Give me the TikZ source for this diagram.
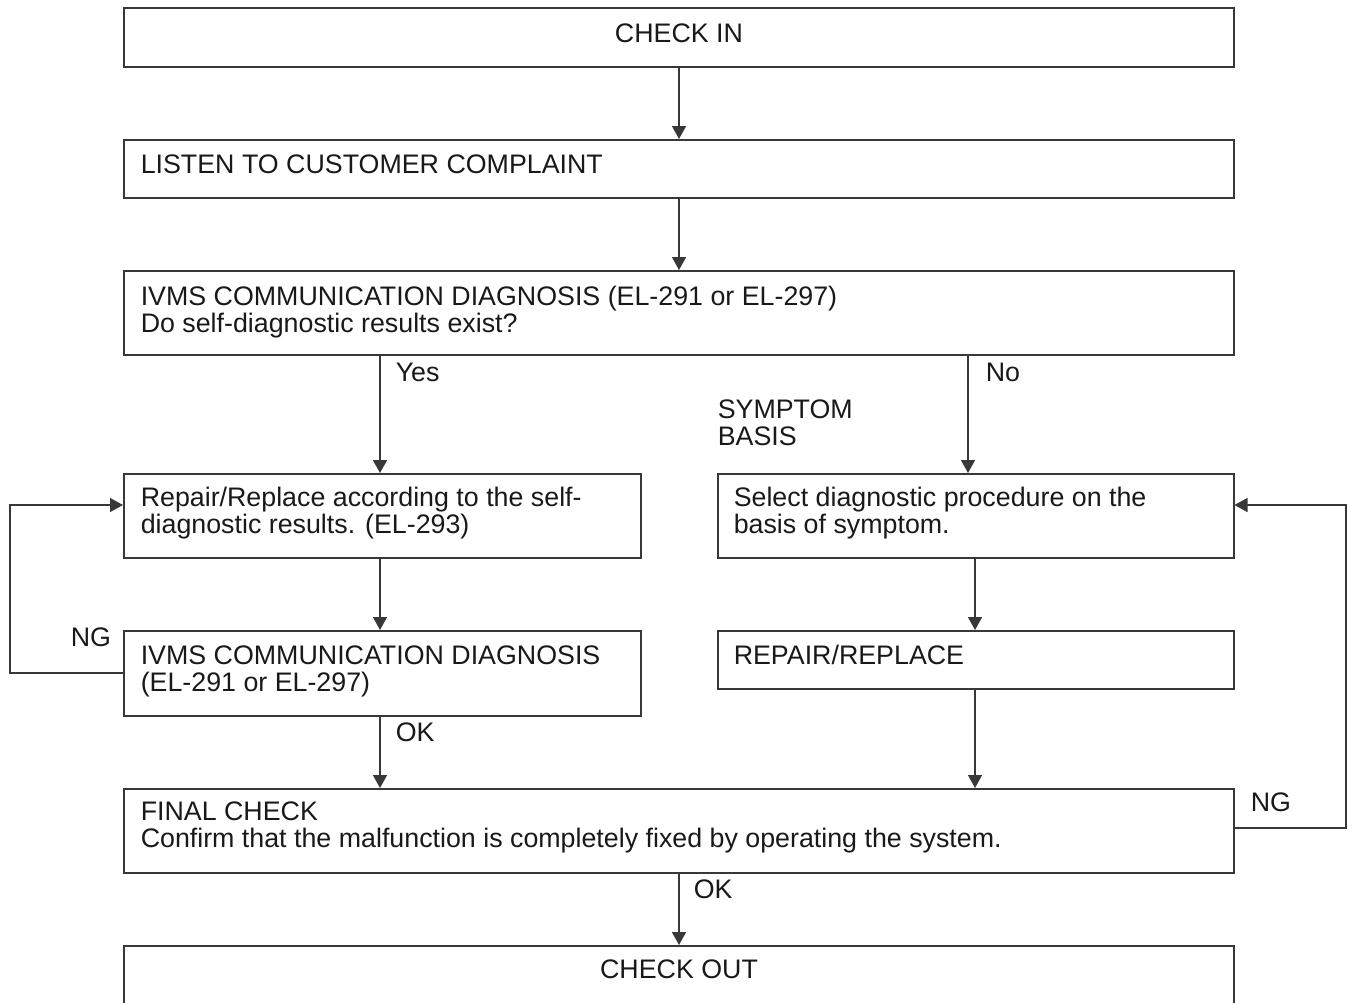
\documentclass[tikz,border=0pt]{standalone}
\usepackage{fontspec}
\setmainfont{Liberation Sans}
\usetikzlibrary{arrows.meta}
\begin{document}
\begin{tikzpicture}[x=1pt,y=-1pt,
  line width=1.5pt,
  ln/.style={draw=black!78},
  box/.style={ln,rectangle,inner sep=0pt,anchor=north west},
  arr/.style={ln,-{Triangle[length=13pt,width=14pt]}},
  txt/.style={anchor=base west,inner sep=0pt,font=\fontsize{26.8}{27}\selectfont,text=black!90},
  ctxt/.style={anchor=base,inner sep=0pt,font=\fontsize{26.8}{27}\selectfont,text=black!90}]
\useasboundingbox (0,0) rectangle (1348,1002);
\clip (0,0) rectangle (1348,1002);

% boxes
\node[box,minimum width=1110pt,minimum height=59pt] (checkin) at (123,7) {};
\node[box,minimum width=1110pt,minimum height=58pt] (listen) at (123,139) {};
\node[box,minimum width=1110pt,minimum height=84pt] (ivms) at (123,270) {};
\node[box,minimum width=517pt,minimum height=84pt] (rep) at (123,473) {};
\node[box,minimum width=516pt,minimum height=84pt] (sel) at (717,473) {};
\node[box,minimum width=517pt,minimum height=85pt] (ivms2) at (123,630) {};
\node[box,minimum width=516pt,minimum height=58pt] (rr) at (717,630) {};
\node[box,minimum width=1110pt,minimum height=84pt] (final) at (123,788) {};
\node[box,minimum width=1110pt,minimum height=90pt] (checkout) at (123,945) {};

% texts
\node[ctxt] (t1) at (679,42) {CHECK IN};
\node[txt] (t2) at (140,173) {LISTEN TO CUSTOMER COMPLAINT};
\node[txt] (t3) at (140,305) {IVMS COMMUNICATION DIAGNOSIS (EL-291 or EL-297)};
\node[txt] (t4) at (140,332) {Do self-diagnostic results exist?};
\node[txt] (t5) at (140,506) {Repair/Replace according to the self-};
\node[txt] (t6) at (140,533) {diagnostic results. (EL-293)};
\node[txt] (t7) at (733,506) {Select diagnostic procedure on the};
\node[txt] (t8) at (733,533) {basis of symptom.};
\node[txt] (t9) at (140,664) {IVMS COMMUNICATION DIAGNOSIS};
\node[txt] (t10) at (140,691) {(EL-291 or EL-297)};
\node[txt] (t11) at (733,664) {REPAIR/REPLACE};
\node[txt] (t12) at (140,820) {FINAL CHECK};
\node[txt] (t13) at (140,847) {Confirm that the malfunction is completely fixed by operating the system.};
\node[ctxt] (t14) at (679,978) {CHECK OUT};
\node[txt] (t15) at (717,418) {SYMPTOM};
\node[txt] (t16) at (717,445) {BASIS};

% branch labels
\node[txt] (yes) at (395,381) {Yes};
\node[txt] (no) at (985,381) {No};
\node[txt] (ok1) at (395,741) {OK};
\node[txt] (ok2) at (693,898) {OK};
\node[txt] (ng1) at (70,646) {NG};
\node[txt] (ng2) at (1250,811) {NG};

% helper coordinates for connector columns
\coordinate (cx) at (679,0);
\coordinate (lx) at (380,0);
\coordinate (nx) at (968,0);
\coordinate (rx) at (975,0);
\coordinate (lloop) at (10,505);
\coordinate (rloop) at (1346,505);
\coordinate (lback) at (10,673);
\coordinate (rback) at (1346,828);

% connectors
\draw[arr] (checkin.south -| cx) -- (listen.north -| cx);
\draw[arr] (listen.south -| cx) -- (ivms.north -| cx);
\draw[arr] (ivms.south -| lx) -- (rep.north -| lx);
\draw[arr] (ivms.south -| nx) -- (sel.north -| nx);
\draw[arr] (rep.south -| lx) -- (ivms2.north -| lx);
\draw[arr] (sel.south -| rx) -- (rr.north -| rx);
\draw[arr] (ivms2.south -| lx) -- (final.north -| lx);
\draw[arr] (rr.south -| rx) -- (final.north -| rx);
\draw[arr] (final.south -| cx) -- (checkout.north -| cx);
\draw[arr] (ivms2.west |- lback) -- (lback) -- (lloop) -- (rep.west |- lloop);
\draw[arr] (final.east |- rback) -- (rback) -- (rloop) -- (sel.east |- rloop);
\end{tikzpicture}
\end{document}
